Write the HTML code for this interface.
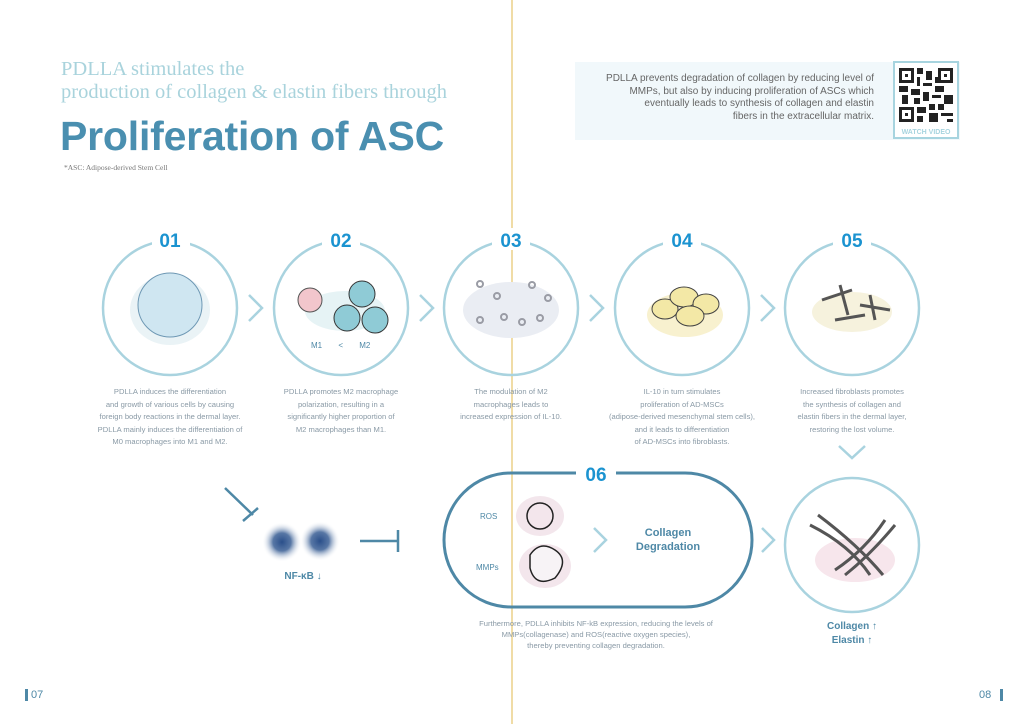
<!DOCTYPE html>
<html><head><meta charset="utf-8"><style>
body{margin:0;width:1024px;height:724px;background:#fff;overflow:hidden;position:relative;font-family:"Liberation Sans",sans-serif}
.a{position:absolute}
.sm{font-size:7.6px;color:#8a9aa6;text-align:center;line-height:12.5px}
</style></head><body>
<div class="a" style="left:61px;top:58px;font-family:'Liberation Serif',serif;font-size:20.5px;color:#a9d3dc;line-height:23px">PDLLA stimulates the<br>production of collagen &amp; elastin fibers through</div>
<div class="a" style="left:60px;top:113px;font-size:41px;font-weight:bold;color:#4a8fb0;letter-spacing:-0.2px">Proliferation of ASC</div>
<div class="a" style="left:64px;top:163px;font-family:'Liberation Serif',serif;font-size:7.5px;color:#777">*ASC: Adipose-derived Stem Cell</div>
<div class="a" style="left:575px;top:62px;width:385px;height:78px;background:#f1f8fb"></div>
<div class="a" style="left:596px;top:73px;width:278px;text-align:right;font-size:10px;line-height:12.5px;color:#666">PDLLA prevents degradation of collagen by reducing level of<br>MMPs, but also by inducing proliferation of ASCs which<br>eventually leads to synthesis of collagen and elastin<br>fibers in the extracellular matrix.</div>
<div class="a" style="left:893px;top:61px;width:66px;height:78px;border:2px solid #a7d4df;background:#fff;box-sizing:border-box"></div>
<svg class="a" style="left:899px;top:67px" width="54" height="56" viewBox="0 0 18 18">
<rect width="18" height="18" fill="#fff"/>
<g fill="#222">
<path d="M0 0h5v5h-5zM13 0h5v5h-5zM0 13h5v5h-5z"/>
<path d="M6 0h2v2h-2zM9 1h2v3h-2zM6 3h1v3h-1zM8 5h3v1h-3zM12 6h3v2h-3zM0 6h3v2h-3zM4 7h3v2h-3zM8 8h2v3h-2zM11 9h3v1h-3zM15 9h3v3h-3zM1 9h2v3h-2zM5 10h2v2h-2zM10 12h2v2h-2zM13 12h2v2h-2zM6 13h3v2h-3zM10 15h3v3h-3zM14 15h4v1h-4zM16 17h2v1h-2zM6 16h2v2h-2zM12 3h1v2h-1z"/>
</g>
<g fill="#fff"><path d="M1 1h3v3h-3zM14 1h3v3h-3zM1 14h3v3h-3z"/></g>
<g fill="#222"><path d="M2 2h1v1h-1zM15 2h1v1h-1zM2 15h1v1h-1z"/></g>
</svg>
<div class="a" style="left:893px;top:129px;width:66px;text-align:center;font-size:7px;font-weight:bold;color:#a7d4df">WATCH VIDEO</div>
<svg class="a" style="left:0;top:0" width="1024" height="724">
<line x1="512" y1="0" x2="512" y2="724" stroke="#f0dca6" stroke-width="2"/>
<g fill="none" stroke="#a9d3df" stroke-width="2.5">
<circle cx="170" cy="308" r="67"/><circle cx="341" cy="308" r="67"/><circle cx="511" cy="308" r="67"/><circle cx="682" cy="308" r="67"/><circle cx="852" cy="308" r="67"/>
<circle cx="852" cy="545" r="67"/>
<path d="M249 295l13 13-13 13M420 295l13 13-13 13M590 295l13 13-13 13M761 295l13 13-13 13M839 446l13 12 13-12M594 528l12 12-12 12M762 528l12 12-12 12"/>
</g>
<g fill="#fff"><rect x="152" y="228" width="38" height="22"/><rect x="322" y="228" width="38" height="22"/><rect x="492" y="228" width="38" height="22"/><rect x="663" y="228" width="38" height="22"/><rect x="833" y="228" width="38" height="22"/></g>
<rect x="444" y="473" width="308" height="134" rx="67" fill="none" stroke="#4e88a6" stroke-width="3"/>
<rect x="576" y="462" width="40" height="22" fill="#fff"/>
<g font-family="Liberation Sans" font-weight="bold" font-size="19" fill="#1b93d0" text-anchor="middle">
<text x="170" y="247">01</text><text x="341" y="247">02</text><text x="511" y="247">03</text><text x="682" y="247">04</text><text x="852" y="247">05</text><text x="596" y="481">06</text></g>
<g stroke="#4e88a6" stroke-width="2.5" fill="none"><path d="M225 488l28 27M243 521l15-13M360 541h38M398 530v22"/></g>
<defs><radialGradient id="b"><stop offset="0" stop-color="#2a4f8a"/><stop offset=".45" stop-color="#3a5f95" stop-opacity=".85"/><stop offset="1" stop-color="#fff" stop-opacity="0"/></radialGradient></defs>
<circle cx="282" cy="542" r="20" fill="url(#b)"/><circle cx="320" cy="541" r="20" fill="url(#b)"/>
<ellipse cx="170" cy="310" rx="40" ry="35" fill="#eaf3f6"/><circle cx="170" cy="305" r="32" fill="#cfe6f1" stroke="#6e98b4"/>
<ellipse cx="345" cy="311" rx="40" ry="20" fill="#e6f3f5"/><circle cx="310" cy="300" r="12" fill="#f2c6cc" stroke="#555"/>
<g fill="#8fcbd6" stroke="#333"><circle cx="362" cy="294" r="13"/><circle cx="347" cy="318" r="13"/><circle cx="375" cy="320" r="13"/></g>
<ellipse cx="511" cy="310" rx="48" ry="28" fill="#eaedf3"/>
<g fill="none" stroke="#9a9ca5" stroke-width="2"><circle cx="480" cy="284" r="3"/><circle cx="497" cy="296" r="3"/><circle cx="532" cy="285" r="3"/><circle cx="548" cy="298" r="3"/><circle cx="480" cy="320" r="3"/><circle cx="504" cy="317" r="3"/><circle cx="522" cy="322" r="3"/><circle cx="540" cy="318" r="3"/></g>
<ellipse cx="685" cy="315" rx="38" ry="22" fill="#f8f1cf"/>
<g fill="#f3e8a6" stroke="#444"><ellipse cx="665" cy="309" rx="13" ry="10"/><ellipse cx="684" cy="297" rx="14" ry="10"/><ellipse cx="706" cy="304" rx="13" ry="10"/><ellipse cx="690" cy="316" rx="14" ry="10"/></g>
<ellipse cx="852" cy="312" rx="40" ry="20" fill="#f6f2dd"/>
<g stroke="#555" stroke-width="3" fill="#e7a45f"><path d="M822 300l30 -10M840 285l8 30M860 305l30 5M870 295l5 25M835 320l30 -5"/></g>
<ellipse cx="540" cy="516" rx="24" ry="20" fill="#f3e6ec"/><circle cx="540" cy="516" r="13" fill="none" stroke="#222" stroke-width="1.5"/>
<ellipse cx="545" cy="566" rx="26" ry="22" fill="#f3e6ec"/><path d="M530 555q10-15 25-5t0 28q-20 10-25-10z" fill="#f7f3f6" stroke="#222" stroke-width="1.5"/>
<ellipse cx="855" cy="560" rx="40" ry="22" fill="#f7e6ec"/>
<g stroke="#555" stroke-width="3" fill="none"><path d="M810 525q40 20 60 50M818 515q40 30 65 60M885 520q-20 30-50 50M895 525q-25 30-50 50"/></g>
<rect x="25" y="689" width="3" height="12" fill="#4e88a6"/><rect x="1000" y="689" width="3" height="12" fill="#4e88a6"/>
</svg>
<div class="a" style="left:311px;top:341px;font-size:8px;color:#4e88a6;word-spacing:14px">M1 &lt; M2</div>
<div class="a sm" style="left:85px;top:386px;width:170px">PDLLA induces the differentiation<br>and growth of various cells by causing<br>foreign body reactions in the dermal layer.<br>PDLLA mainly induces the differentiation of<br>M0 macrophages into M1 and M2.</div>
<div class="a sm" style="left:256px;top:386px;width:170px">PDLLA promotes M2 macrophage<br>polarization, resulting in a<br>significantly higher proportion of<br>M2 macrophages than M1.</div>
<div class="a sm" style="left:426px;top:386px;width:170px">The modulation of M2<br>macrophages leads to<br>increased expression of IL-10.</div>
<div class="a sm" style="left:592px;top:386px;width:180px">IL-10 in turn stimulates<br>proliferation of AD-MSCs<br>(adipose-derived mesenchymal stem cells),<br>and it leads to differentiation<br>of AD-MSCs into fibroblasts.</div>
<div class="a sm" style="left:767px;top:386px;width:170px">Increased fibroblasts promotes<br>the synthesis of collagen and<br>elastin fibers in the dermal layer,<br>restoring the lost volume.</div>
<div class="a" style="left:270px;top:571px;width:66px;text-align:center;font-size:10px;font-weight:bold;color:#4e88a6">NF-κB ↓</div>
<div class="a" style="left:480px;top:512px;font-size:8px;color:#4e88a6">ROS</div>
<div class="a" style="left:476px;top:563px;font-size:8px;color:#4e88a6">MMPs</div>
<div class="a" style="left:620px;top:526px;width:96px;text-align:center;font-size:11px;font-weight:bold;color:#4e88a6;line-height:14px">Collagen<br>Degradation</div>
<div class="a sm" style="left:446px;top:618px;width:300px;line-height:11px">Furthermore, PDLLA inhibits NF-kB expression, reducing the levels of<br>MMPs(collagenase) and ROS(reactive oxygen species),<br>thereby preventing collagen degradation.</div>
<div class="a" style="left:800px;top:620px;width:104px;text-align:center;font-size:10px;font-weight:bold;color:#4e88a6;line-height:14px">Collagen ↑<br>Elastin ↑</div>
<div class="a" style="left:31px;top:689px;font-size:11px;color:#4e88a6">07</div>
<div class="a" style="left:979px;top:689px;font-size:11px;color:#4e88a6">08</div>
</body></html>
